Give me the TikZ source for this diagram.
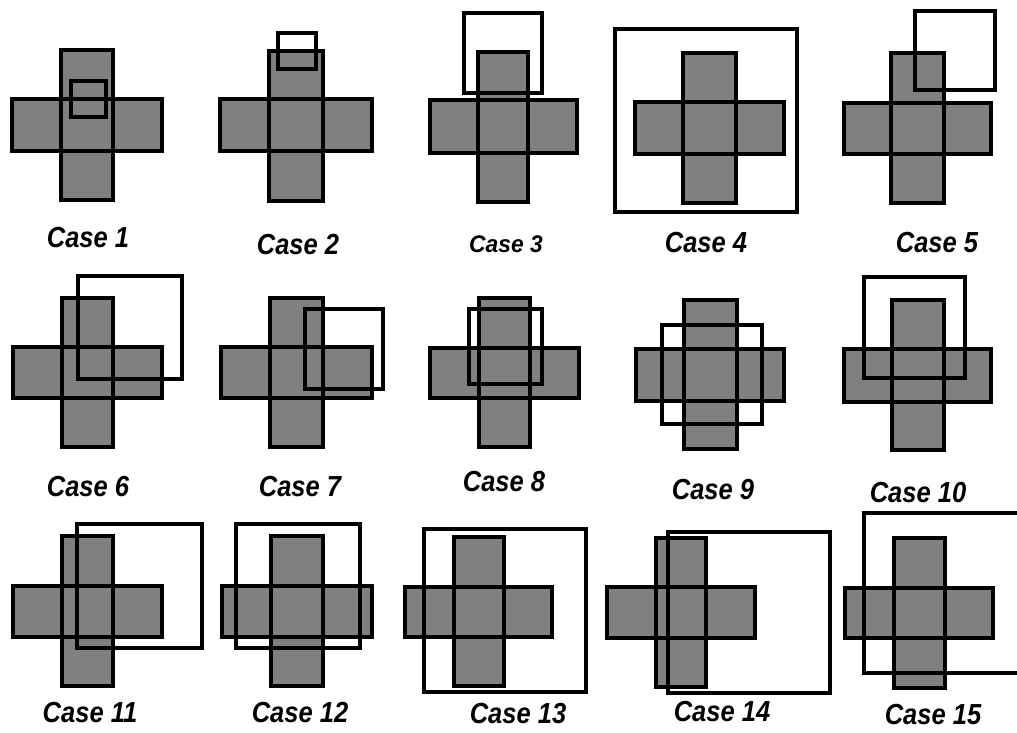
\documentclass[tikz,border=0pt]{standalone}
\usepackage{fontspec}
\setmainfont{Liberation Sans}
\tikzset{
  armfill/.style={fill=black!50, draw=none},
  armline/.style={draw=black, line width=3.4pt},
  probe/.style={draw=black, line width=3.2pt},
  caselabel/.style={font=\fontsize{29}{29}\selectfont\bfseries\itshape, inner sep=0pt, text=black, xscale=0.88, transform shape},
  smalllabel/.style={font=\fontsize{24}{24}\selectfont\bfseries\itshape, inner sep=0pt, text=black, xscale=0.95, transform shape},
}
% cross: vx1 vx2 vy1 vy2 hx1 hx2 hy1 hy2
\newcommand\mycross[8]{%
  \fill[armfill] (#1,#3) rectangle (#2,#4);
  \fill[armfill] (#5,#7) rectangle (#6,#8);
  \draw[armline] (#1,#3) rectangle (#2,#4);
  \draw[armline] (#5,#7) rectangle (#6,#8);
}
\begin{document}
\begin{tikzpicture}[x=1pt,y=-1pt]
\useasboundingbox (0,0) rectangle (1017,732);
\begin{scope}
\clip (0,0) rectangle (1017,732);
% Row 1
\mycross{61}{113}{50}{200}{12}{162}{99}{151}
\draw[probe] (71,81) rectangle (106,117);

\mycross{269}{323}{51}{201}{220}{372}{99}{151}
\draw[probe] (278,33) rectangle (316,69);

\mycross{478}{528}{52}{202}{430}{577}{100}{153}
\draw[probe] (464,13) rectangle (542,93);

\mycross{683}{736}{53}{203}{635}{784}{102}{154}
\draw[probe] (615,29) rectangle (797,212);

\mycross{891}{944}{53}{203}{844}{991}{103}{154}
\draw[probe] (915,11) rectangle (995,90);

% Row 2
\mycross{62}{113}{298}{447}{13}{162}{347}{398}
\draw[probe] (78,276) rectangle (182,379);

\mycross{270}{323}{298}{447}{221}{372}{347}{398}
\draw[probe] (305,309) rectangle (383,389);

\mycross{479}{530}{298}{447}{430}{579}{348}{398}
\draw[probe] (469,309) rectangle (542,384);

\mycross{684}{737}{300}{449}{636}{784}{349}{401}
\draw[probe] (662,325) rectangle (762,424);

\mycross{892}{944}{300}{450}{844}{991}{349}{402}
\draw[probe] (864,277) rectangle (965,378);

% Row 3
\mycross{62}{113}{536}{686}{13}{162}{586}{637}
\draw[probe] (77,524) rectangle (202,648);

\mycross{271}{323}{536}{686}{222}{372}{586}{637}
\draw[probe] (236,524) rectangle (360,648);

\mycross{454}{504}{537}{686}{405}{552}{587}{637}
\draw[probe] (424,529) rectangle (586,692);

\mycross{656}{706}{538}{687}{607}{755}{587}{638}
\draw[probe] (668,532) rectangle (830,693);

\mycross{894}{945}{538}{688}{845}{993}{588}{638}
\draw[probe] (864,513) rectangle (1025,673);
\end{scope}
% Labels
\node[caselabel] (c1) at (88,238) {Case 1};
\node[caselabel] (c2) at (298,245) {Case 2};
\node[smalllabel] (c3) at (506,244) {Case 3};
\node[caselabel] (c4) at (706,243) {Case 4};
\node[caselabel] (c5) at (937,243) {Case 5};
\node[caselabel] (c6) at (88,487) {Case 6};
\node[caselabel] (c7) at (300,487) {Case 7};
\node[caselabel] (c8) at (504,482) {Case 8};
\node[caselabel] (c9) at (713,490) {Case 9};
\node[caselabel] (c10) at (918,493) {Case 10};
\node[caselabel] (c11) at (90,713) {Case 11};
\node[caselabel] (c12) at (300,713) {Case 12};
\node[caselabel] (c13) at (518,714) {Case 13};
\node[caselabel] (c14) at (722,712) {Case 14};
\node[caselabel] (c15) at (933,715) {Case 15};
\end{tikzpicture}
\end{document}
